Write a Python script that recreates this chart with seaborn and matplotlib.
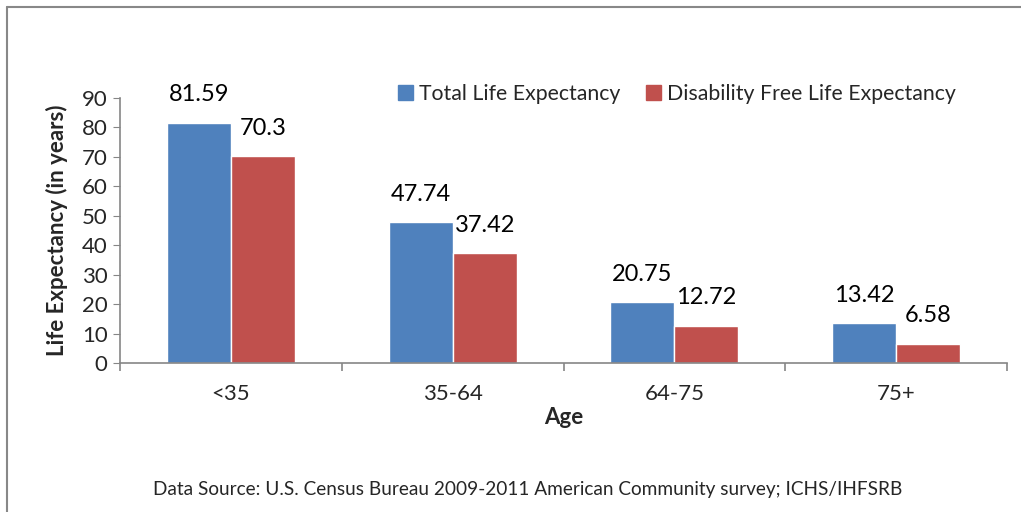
import pandas as pd
import matplotlib
matplotlib.use("Agg")
import matplotlib.pyplot as plt
from matplotlib.lines import Line2D
from matplotlib.ticker import MultipleLocator, FixedLocator
import seaborn as sns

# Chart data
ages = ["<35", "35-64", "64-75", "75+"]
total_le = [81.59, 47.74, 20.75, 13.42]
disability_free_le = [70.3, 37.42, 12.72, 6.58]
series_names = ["Total Life Expectancy", "Disability Free Life Expectancy"]
value_labels = [["81.59", "47.74", "20.75", "13.42"], ["70.3", "37.42", "12.72", "6.58"]]

df = pd.DataFrame({
    "Age": ages * 2,
    "Years": total_le + disability_free_le,
    "Series": [series_names[0]] * 4 + [series_names[1]] * 4,
})

sns.set_style("white")
plt.rcParams['font.family'] = ['Lato', 'DejaVu Sans']

fig = plt.figure(figsize=(10.21, 5.12), dpi=100)
ax = fig.add_axes([120 / 1021, 1 - 363 / 512, 887 / 1021, 265 / 512])

colors = ["#4F81BD", "#C0504D"]
sns.barplot(data=df, x="Age", y="Years", hue="Series", palette=colors,
            width=0.577, gap=0, saturation=1, ax=ax, legend=False)

# value labels above bars
for container, labels in zip(ax.containers, value_labels):
    for bar, lab in zip(container, labels):
        ax.annotate(lab, (bar.get_x() + bar.get_width() / 2, bar.get_height()),
                    xytext=(0, 20), textcoords="offset points",
                    ha="center", va="center", fontsize=17, color="black")

ax.set_xlim(-0.5, 3.5)
ax.set_ylim(0, 90)
ax.yaxis.set_major_locator(MultipleLocator(10))
ax.xaxis.set_minor_locator(FixedLocator([-0.5, 0.5, 1.5, 2.5, 3.5]))

spine_color = "#868686"
for side in ["top", "right"]:
    ax.spines[side].set_visible(False)
for side in ["left", "bottom"]:
    ax.spines[side].set_color(spine_color)
    ax.spines[side].set_linewidth(1.2)

ax.tick_params(axis="y", which="major", direction="out", length=5, color=spine_color,
               labelsize=16, left=True, pad=4)
ax.tick_params(axis="x", which="major", length=0, labelsize=16, pad=15)
ax.tick_params(axis="x", which="minor", direction="out", length=6, color=spine_color,
               bottom=True, width=1.2)

ax.set_xlabel("Age", fontsize=16, fontweight="bold", labelpad=2)
ax.set_ylabel("Life Expectancy (in years)", fontsize=16, fontweight="bold", labelpad=10)

handles = [plt.Rectangle((0, 0), 1, 1, color=c) for c in colors]
fig.legend(handles, series_names, loc="center", bbox_to_anchor=(677 / 1021, 1 - 94 / 512),
           ncol=2, frameon=False, fontsize=15.3, handlelength=0.7, handleheight=0.7,
           handletextpad=0.3, columnspacing=1.2)

fig.text(528 / 1021, 1 - 490 / 512,
         "Data Source: U.S. Census Bureau 2009-2011 American Community survey; ICHS/IHFSRB",
         ha="center", va="center", fontsize=13.7)

# outer chart border (only top and left visible in the crop)
fig.add_artist(Line2D([7 / 1021, 1], [1 - 7 / 512, 1 - 7 / 512], color="#888888", lw=1.5,
                      transform=fig.transFigure))
fig.add_artist(Line2D([7 / 1021, 7 / 1021], [0, 1 - 7 / 512], color="#888888", lw=1.5,
                      transform=fig.transFigure))

fig.savefig("out.png", dpi=100, facecolor="white")
